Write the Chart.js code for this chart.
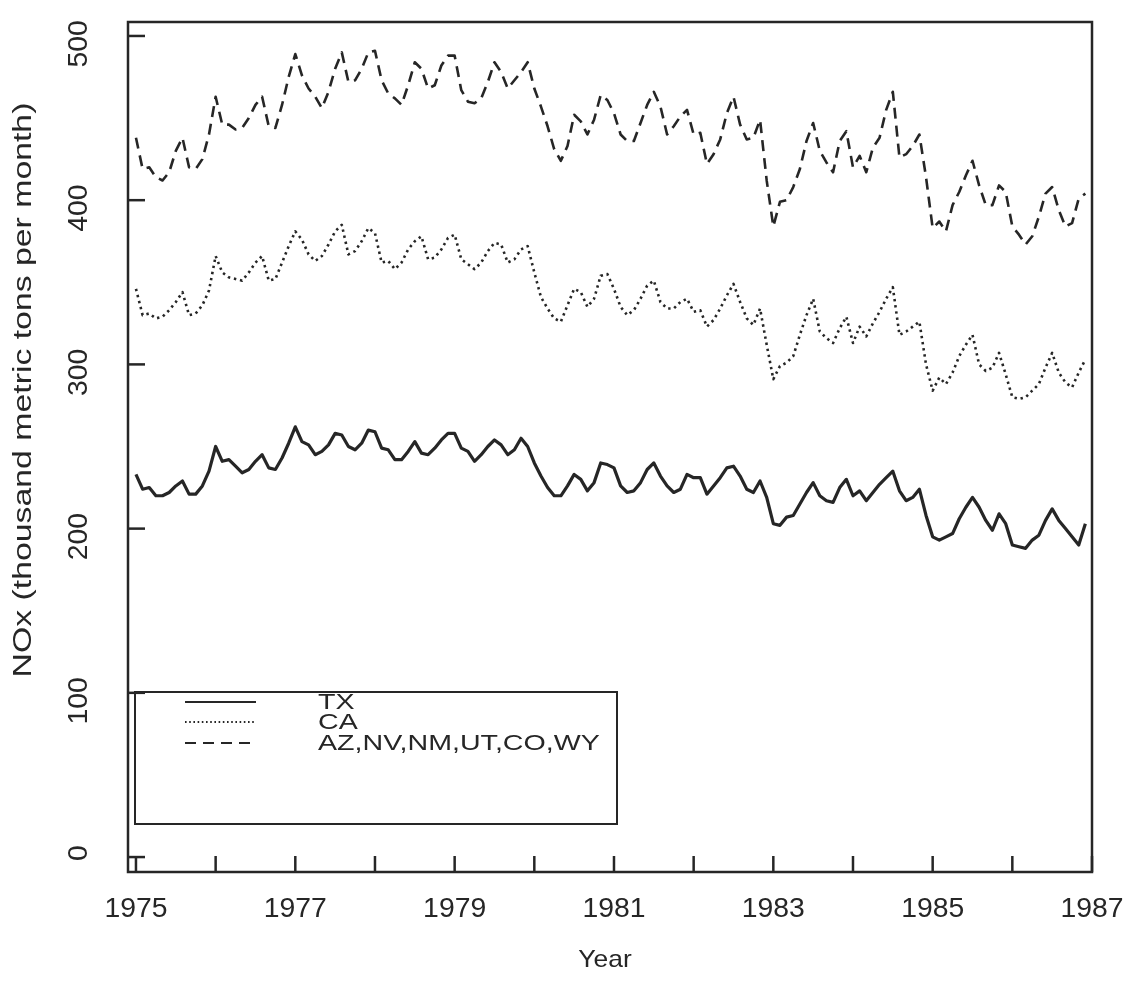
<!DOCTYPE html>
<html>
<head>
<meta charset="utf-8">
<title>NOx emissions by region</title>
<script src="https://cdn.jsdelivr.net/npm/chart.js@4.4.1/dist/chart.umd.min.js"></script>
<style>
  html, body { margin: 0; padding: 0; background: #ffffff; }
  #noxChart { display: block; }
</style>
</head>
<body>
<canvas id="noxChart" width="1128" height="990"></canvas>
<script>
// Monthly series, Jan 1975 .. Dec 1986 (thousand metric tons per month)
const startYear = 1975;
const yearTicks = [1975, 1976, 1977, 1978, 1979, 1980, 1981, 1982, 1983, 1984, 1985, 1986, 1987];
const yearLabels = [1975, 1977, 1979, 1981, 1983, 1985, 1987];
const valueTicks = [0, 100, 200, 300, 400, 500];
const seriesNames = ['TX', 'CA', 'AZ,NV,NM,UT,CO,WY'];

const txValues = [
  233, 224, 225, 220, 220, 222, 226, 229, 221, 221, 226, 235,
  250, 241, 242, 238, 234, 236, 241, 245, 237, 236, 243, 252,
  262, 253, 251, 245, 247, 251, 258, 257, 250, 248, 252, 260,
  259, 249, 248, 242, 242, 247, 253, 246, 245, 249, 254, 258,
  258, 249, 247, 241, 245, 250, 254, 251, 245, 248, 255, 250,
  240, 232, 225, 220, 220, 226, 233, 230, 223, 228, 240, 239,
  237, 226, 222, 223, 228, 236, 240, 232, 226, 222, 224, 233,
  231, 231, 221, 226, 231, 237, 238, 232, 224, 222, 229, 219,
  203, 202, 207, 208, 215, 222, 228, 220, 217, 216, 225, 230,
  220, 223, 217, 222, 227, 231, 235, 223, 217, 219, 224, 208,
  195, 193, 195, 197, 206, 213, 219, 213, 205, 199, 209, 203,
  190, 189, 188, 193, 196, 205, 212, 205, 200, 195, 190, 203
];

const caValues = [
  346, 330, 331, 328, 329, 333, 338, 344, 330, 331, 336, 345,
  366, 356, 353, 352, 351, 356, 362, 366, 351, 352, 362, 372,
  381, 376, 367, 363, 366, 373, 381, 385, 367, 369, 375, 383,
  380, 362, 363, 358, 362, 370, 375, 378, 364, 365, 370, 377,
  379, 364, 361, 358, 362, 369, 374, 373, 362, 364, 370, 372,
  356, 341, 334, 328, 326, 336, 346, 344, 335, 340, 354, 355,
  346, 335, 330, 333, 340, 348, 351, 338, 334, 334, 338, 340,
  332, 333, 323, 327, 334, 342, 349, 338, 328, 324, 334, 312,
  291, 299, 301, 305, 318, 330, 340, 320, 316, 313, 322, 329,
  313, 323, 317, 325, 332, 340, 347, 318, 320, 323, 326, 300,
  284, 292, 288, 295, 305, 312, 318, 300, 296, 298, 307, 294,
  280, 279, 280, 284, 288, 298, 307, 295, 289, 286, 295, 303
];

const azValues = [
  438, 419, 420, 414, 412, 417, 430, 438, 420, 419, 425, 440,
  463, 446, 446, 443, 444, 450, 458, 463, 445, 444, 458, 475,
  489, 476, 468, 463, 456, 466, 480, 490, 472, 473, 480, 490,
  491, 473, 465, 462, 458, 470, 484, 480, 468, 470, 482, 488,
  488, 467, 460, 459, 462, 472, 484, 478, 468, 473, 478, 484,
  468, 457, 445, 431, 424, 433, 452, 448, 440, 449, 464, 461,
  453, 440, 436, 436, 447, 458, 466, 457, 440, 445, 451, 455,
  440, 441, 422, 428, 437, 453, 463, 446, 437, 438, 449, 412,
  384, 399, 400, 408, 419, 436, 447, 430, 423, 417, 436, 442,
  420, 427, 417, 432, 438, 455, 466, 426, 428, 433, 440, 414,
  383, 387, 381, 397, 405, 415, 424, 409, 397, 397, 409, 405,
  384, 379, 373, 378, 390, 404, 408, 394, 384, 386, 401, 404
];

const INK = '#262626';
const FONT = '"Liberation Sans", Arial, Helvetica, sans-serif';

function toPoints(values) {
  return values.map((v, i) => ({ x: startYear + i / 12, y: v }));
}

/**
 * Draws text with a horizontal stretch, optionally rotated
 */
function paperText(ctx, text, x, y, size, stretch, angle, align) {
  ctx.save();
  ctx.translate(x, y);
  if (angle) ctx.rotate(angle);
  ctx.scale(stretch, 1);
  ctx.font = size + 'px ' + FONT;
  ctx.fillStyle = INK;
  ctx.textAlign = align || 'center';
  ctx.textBaseline = 'middle';
  ctx.fillText(text, 0, 0);
  ctx.restore();
}

// Frame, inward ticks, labels and boxed legend in the style of the original figure
const paperAxes = {
  id: 'paperAxes',
  afterDraw(chart) {
    const ctx = chart.ctx;
    const area = chart.chartArea;
    const xs = chart.scales.x;
    const ys = chart.scales.y;

    ctx.save();
    ctx.strokeStyle = INK;
    ctx.lineWidth = 2.5;
    ctx.strokeRect(area.left, area.top, area.right - area.left, area.bottom - area.top);

    // y ticks (inward); the printed labels sit a little below their ticks
    valueTicks.forEach(v => {
      const py = ys.getPixelForValue(v);
      ctx.beginPath();
      ctx.moveTo(area.left, py);
      ctx.lineTo(area.left + 17, py);
      ctx.stroke();
      const shift = v === 0 ? -4 : 8;
      paperText(ctx, String(v), 80, py + shift, 27, 1.05, -Math.PI / 2);
    });

    // x ticks (inward)
    yearTicks.forEach(yr => {
      const px = xs.getPixelForValue(yr);
      ctx.beginPath();
      ctx.moveTo(px, area.bottom);
      ctx.lineTo(px, area.bottom - 16);
      ctx.stroke();
    });
    yearLabels.forEach(yr => {
      paperText(ctx, String(yr), xs.getPixelForValue(yr), 910, 27, 1.05, 0);
    });

    // axis titles
    paperText(ctx, 'Year', 605, 960, 24, 1.1, 0);
    paperText(ctx, 'NOx (thousand metric tons per month)', 24, 390, 26, 1.3, -Math.PI / 2);

    // legend box
    const lg = { left: 135, top: 692, right: 617, bottom: 824 };
    ctx.lineWidth = 2;
    ctx.strokeRect(lg.left, lg.top, lg.right - lg.left, lg.bottom - lg.top);
    const rowY = [702, 722, 743];
    chart.data.datasets.forEach((ds, i) => {
      ctx.save();
      ctx.strokeStyle = ds.borderColor;
      ctx.lineWidth = i === 1 ? 1.8 : 2;
      ctx.setLineDash(i === 1 ? [1.6, 2.6] : (ds.borderDash || []));
      ctx.beginPath();
      ctx.moveTo(185, rowY[i]);
      ctx.lineTo(256, rowY[i]);
      ctx.stroke();
      ctx.restore();
      paperText(ctx, ds.label, 318, rowY[i] + 1, 22, 1.3, 0, 'left');
    });
    ctx.restore();
  }
};

document.addEventListener('DOMContentLoaded', function() {
  const canvas = document.getElementById('noxChart');

  new Chart(canvas, {
    type: 'line',
    data: {
      datasets: [
        {
          label: seriesNames[0],
          data: toPoints(txValues),
          borderColor: INK,
          borderWidth: 3.2,
          borderDash: []
        },
        {
          label: seriesNames[1],
          data: toPoints(caValues),
          borderColor: INK,
          borderWidth: 2.6,
          borderDash: [2.4, 3.8]
        },
        {
          label: seriesNames[2],
          data: toPoints(azValues),
          borderColor: INK,
          borderWidth: 2.6,
          borderDash: [11, 7]
        }
      ]
    },
    options: {
      responsive: false,
      animation: false,
      devicePixelRatio: 1,
      layout: {
        padding: { left: 128, right: 36, top: 22, bottom: 118 }
      },
      elements: {
        point: { radius: 0 },
        line: { tension: 0, fill: false, borderJoinStyle: 'round' }
      },
      scales: {
        x: { type: 'linear', display: false, min: 1974.9, max: 1987 },
        y: { type: 'linear', display: false, min: -9.1, max: 508.5 }
      },
      plugins: {
        legend: { display: false },
        tooltip: { enabled: false }
      }
    },
    plugins: [paperAxes]
  });
});
</script>
</body>
</html>
